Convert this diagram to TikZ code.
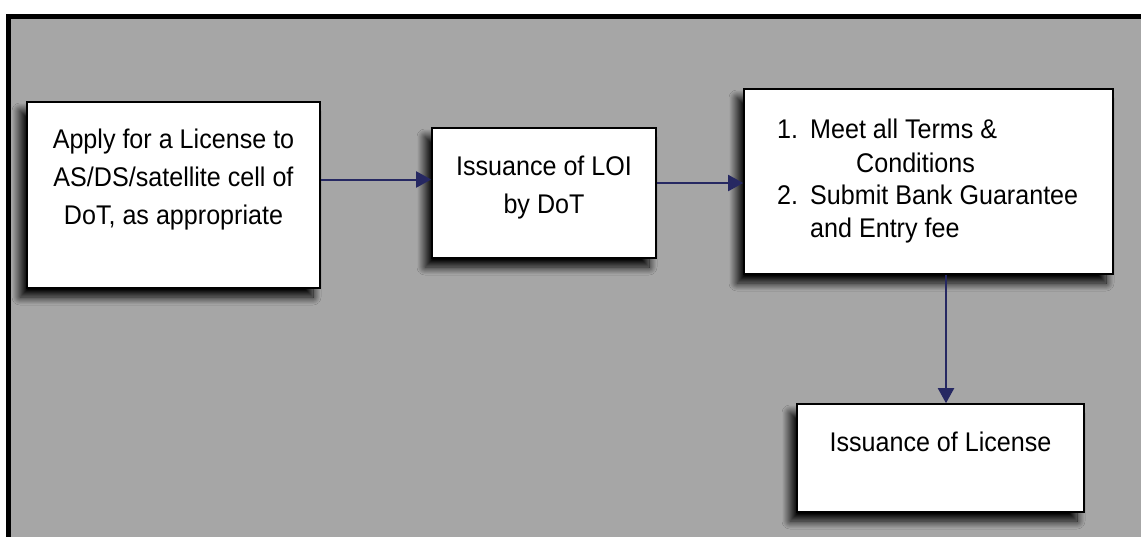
\documentclass[tikz,border=0pt]{standalone}
\usepackage{fontspec}
\setmainfont{Liberation Sans}[FakeStretch=0.93]
\usetikzlibrary{arrows.meta,shadows.blur}
\definecolor{bggrey}{RGB}{166,166,166}
\definecolor{arrownavy}{RGB}{38,40,98}
\begin{document}
\begin{tikzpicture}[x=1pt,y=-1pt,
  boxstyle/.style={draw=black, line width=1.6pt, fill=white, inner sep=0pt,
    blur shadow={shadow xshift=-7pt, shadow yshift=-9pt, shadow blur radius=8pt, shadow blur steps=16, shadow opacity=100}},
  txt/.style={inner sep=0pt, font=\fontsize{27}{32}\selectfont},
  conn/.style={draw=arrownavy, line width=2pt, -{Triangle[length=15pt,width=16pt]}}]
\useasboundingbox (0,0) rectangle (1141,536);
\clip (0,0) rectangle (1141,536);
\fill[white] (0,0) rectangle (1141,536);
\draw[line width=5pt, fill=bggrey] (8.5,16.5) rectangle (1160,560);

\node[boxstyle, minimum width=293pt, minimum height=186pt] (b1) at (173.5,195) {};
\node[boxstyle, minimum width=224pt, minimum height=130pt] (b2) at (544,193) {};
\node[boxstyle, minimum width=369pt, minimum height=185pt] (b3) at (928.5,181.5) {};
\node[boxstyle, minimum width=287pt, minimum height=108pt] (b4) at (940.5,458) {};

\node[txt, anchor=base] (t1a) at (173.5,148) {Apply for a License to};
\node[txt, anchor=base] (t1b) at (173.5,186) {AS/DS/satellite cell of};
\node[txt, anchor=base] (t1c) at (173.5,224) {DoT, as appropriate};
\node[txt, anchor=base] (t2a) at (544,175) {Issuance of LOI};
\node[txt, anchor=base] (t2b) at (544,213) {by DoT};
\node[txt, anchor=base west] (t3a) at (777,138) {1.};
\node[txt, anchor=base west] (t3b) at (810,138) {Meet all Terms \&};
\node[txt, anchor=base west] (t3c) at (856,172) {Conditions};
\node[txt, anchor=base west] (t3d) at (777,204) {2.};
\node[txt, anchor=base west] (t3e) at (810,204) {Submit Bank Guarantee};
\node[txt, anchor=base west] (t3f) at (810,237) {and Entry fee};
\node[txt, anchor=base] (t4) at (940.5,451) {Issuance of License};

\coordinate (y1) at (0,179.5);
\coordinate (y2) at (0,183);
\coordinate (x3) at (946,0);
\draw[conn] (b1.east |- y1) -- (b2.west |- y1);
\draw[conn] (b2.east |- y2) -- (b3.west |- y2);
\draw[conn] (b3.south -| x3) -- (b4.north -| x3);
\end{tikzpicture}
\end{document}
